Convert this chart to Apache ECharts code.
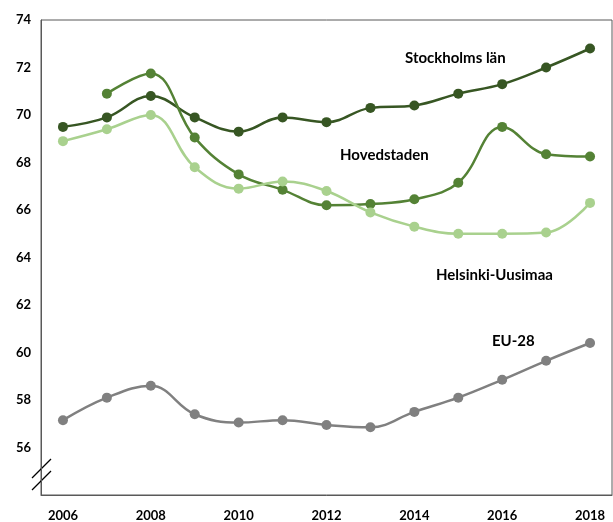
<!DOCTYPE html>
<html><head><meta charset="utf-8">
<script src="https://cdn.jsdelivr.net/npm/echarts@6/dist/echarts.min.js"></script>
<style>html,body{margin:0;padding:0;background:#fff}#c{width:613px;height:522px}</style>
</head><body><div id="c"></div>
<script>
const years = ['2006','2007','2008','2009','2010','2011','2012','2013','2014','2015','2016','2017','2018'];
const stockholm = [69.5, 69.9, 70.8, 69.9, 69.3, 69.9, 69.7, 70.3, 70.4, 70.9, 71.3, 72.0, 72.8];
const hovedstaden = [null, 70.9, 71.75, 69.05, 67.5, 66.85, 66.2, 66.25, 66.45, 67.15, 69.5, 68.35, 68.25];
const helsinki = [68.9, 69.4, 70.0, 67.8, 66.9, 67.2, 66.8, 65.9, 65.3, 65.0, 65.0, 65.05, 66.3];
const eu28 = [57.15, 58.1, 58.6, 57.4, 57.05, 57.15, 56.95, 56.85, 57.5, 58.1, 58.85, 59.65, 60.4];
const seriesNames = ['Stockholms län', 'Hovedstaden', 'Helsinki-Uusimaa', 'EU-28'];
const colors = ['#375623', '#548235', '#A9D18E', '#808080'];
const yTicks = { min: 54, max: 74, interval: 2 };

const font = 'Lato, "Open Sans", sans-serif';
const chart = echarts.init(document.getElementById('c'), null, { renderer: 'canvas' });
function mk(name, data, color) {
  return {
    name, type: 'line', data, smooth: 0.4, connectNulls: false,
    symbol: 'circle', symbolSize: 10,
    lineStyle: { color, width: 2.5 }, itemStyle: { color },
    emphasis: { disabled: true }, z: 3
  };
}
const lbl = (text, x, y) => ({
  type: 'text', left: x, top: y,
  style: { text, font: 'bold 15px ' + font, fill: '#000' }
});
chart.setOption({
  animation: false,
  backgroundColor: '#fff',
  grid: { left: 41, right: 1, top: 20, bottom: 25, show: true, borderColor: '#595959', borderWidth: 1 },
  xAxis: {
    type: 'category', data: years, boundaryGap: true,
    axisLine: { show: true, lineStyle: { color: '#595959' } },
    axisTick: { show: false },
    axisLabel: { interval: 1, margin: 14, fontFamily: font, fontWeight: 'bold', fontSize: 13, color: '#000' },
    splitLine: { show: false }
  },
  yAxis: {
    type: 'value', min: yTicks.min, max: yTicks.max, interval: yTicks.interval,
    axisLine: { show: true, lineStyle: { color: '#595959' } },
    axisTick: { show: false },
    splitLine: { show: false },
    axisLabel: { margin: 10, fontFamily: font, fontWeight: 'bold', fontSize: 13, color: '#000',
      formatter: v => v === yTicks.min ? '' : String(v) }
  },
  series: [
    mk(seriesNames[0], stockholm, colors[0]),
    mk(seriesNames[1], hovedstaden, colors[1]),
    mk(seriesNames[2], helsinki, colors[2]),
    mk(seriesNames[3], eu28, colors[3])
  ],
  graphic: [
    lbl(seriesNames[0], 405, 51),
    lbl(seriesNames[1], 340, 148),
    lbl(seriesNames[2], 436, 268),
    lbl(seriesNames[3], 492, 334),
    { type: 'line', shape: { x1: 32, y1: 478, x2: 51, y2: 459 }, style: { stroke: '#000', lineWidth: 1.2 } },
    { type: 'line', shape: { x1: 32, y1: 490, x2: 51, y2: 471 }, style: { stroke: '#000', lineWidth: 1.2 } }
  ]
});
</script></body></html>
